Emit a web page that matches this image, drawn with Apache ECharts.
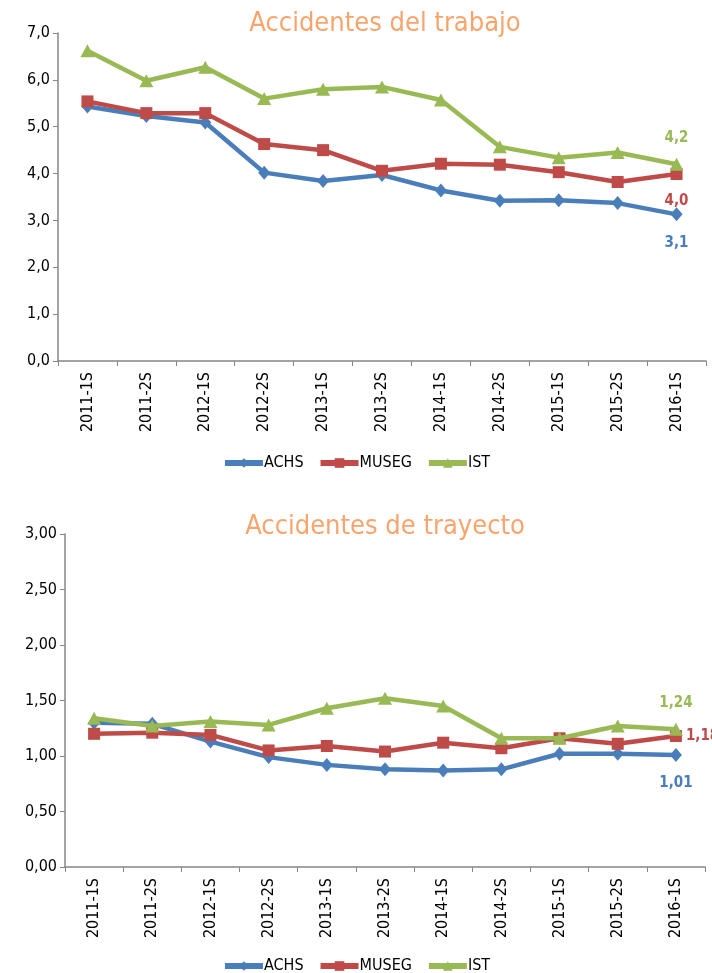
<!DOCTYPE html>
<html><head><meta charset="utf-8">
<script src="https://cdn.jsdelivr.net/npm/echarts@6/dist/echarts.min.js"></script>
<style>html,body{margin:0;padding:0;background:#fff}#c{width:712px;height:973px}</style>
</head><body><div id="c"></div>
<script>
const categories = ['2011-1S','2011-2S','2012-1S','2012-2S','2013-1S','2013-2S','2014-1S','2014-2S','2015-1S','2015-2S','2016-1S'];
const seriesNames = ['ACHS','MUSEG','IST'];
const trabajoACHS  = [5.43,5.23,5.09,4.02,3.84,3.97,3.64,3.42,3.43,3.37,3.13];
const trabajoMUSEG = [5.54,5.29,5.29,4.63,4.50,4.06,4.21,4.19,4.03,3.82,3.99];
const trabajoIST   = [6.62,5.98,6.27,5.60,5.80,5.85,5.57,4.57,4.34,4.45,4.20];
const trayectoACHS  = [1.30,1.29,1.13,0.99,0.92,0.88,0.87,0.88,1.02,1.02,1.01];
const trayectoMUSEG = [1.20,1.21,1.19,1.05,1.09,1.04,1.12,1.07,1.16,1.11,1.18];
const trayectoIST   = [1.34,1.27,1.31,1.28,1.43,1.52,1.45,1.16,1.16,1.27,1.24];
const titles = ['Accidentes del trabajo','Accidentes de trayecto'];

const colors = ['#4A7EBB','#BE4B48','#98B954'];
const symbols = ['diamond','rect','triangle'];
const symSizes = [[12,14],12,[14,13]];
const FONT = '"Liberation Sans Narrow","DejaVu Sans Condensed",sans-serif';

function fmt(dec){ return v => Number(v).toFixed(dec).replace('.',','); }

function lastLabeled(arr, pos, dist, color, dec){
  return arr.map((v,i)=> i===arr.length-1 ? {value:v,label:{show:true,position:pos,distance:dist,color:color,fontWeight:'bold',fontSize:15,fontFamily:FONT,formatter:p=>fmt(dec)(p.value)}} : v);
}

const axisLine = {show:true,lineStyle:{color:'#868686',width:1.5}};
function xAxis(gi){
  return {type:'category',gridIndex:gi,data:categories,boundaryGap:true,
    axisLine:axisLine,axisTick:{show:true,alignWithLabel:false,length:5,lineStyle:{color:'#868686'}},
    axisLabel:{rotate:90,margin:11,color:'#000',fontSize:16,fontFamily:FONT},splitLine:{show:false}};
}
function yAxis(gi,max,interval,dec){
  return {type:'value',gridIndex:gi,min:0,max:max,interval:interval,
    axisLine:axisLine,axisTick:{show:true,length:5,lineStyle:{color:'#868686'}},
    axisLabel:{formatter:fmt(dec),color:'#000',fontSize:16,fontFamily:FONT,margin:8},splitLine:{show:false}};
}
function mkSeries(name,idx,gi,data){
  return {name:name,type:'line',xAxisIndex:gi,yAxisIndex:gi,data:data,
    symbol:symbols[idx],symbolSize:symSizes[idx],showAllSymbol:true,
    lineStyle:{width:4.5,color:colors[idx]},itemStyle:{color:colors[idx]},
    emphasis:{disabled:true},animation:false,z:idx===2?4:(idx===1?3:2)};
}
function legend(top){
  return {data:seriesNames,left:'center',top:top,itemWidth:38,itemHeight:12,itemGap:14,
    lineStyle:{width:6},
    textStyle:{fontSize:16,fontFamily:FONT,color:'#000',padding:[0,0,0,-4]}};
}

const option = {
  animation:false,
  title:[
    {text:titles[0],left:380,top:5,textAlign:'center',textStyle:{color:'#F9A46C',fontSize:27,fontWeight:'normal',fontFamily:FONT}},
    {text:titles[1],left:380,top:508,textAlign:'center',textStyle:{color:'#F9A46C',fontSize:27,fontWeight:'normal',fontFamily:FONT}}
  ],
  legend:[legend(450),legend(953)],
  grid:[
    {left:58,right:6,top:33,height:328},
    {left:65,right:7,top:534,height:333}
  ],
  xAxis:[xAxis(0),xAxis(1)],
  yAxis:[yAxis(0,7,1,1),yAxis(1,3,0.5,2)],
  series:[
    mkSeries('ACHS',0,0,lastLabeled(trabajoACHS,'bottom',14,colors[0],1)),
    mkSeries('MUSEG',1,0,lastLabeled(trabajoMUSEG,'bottom',14,colors[1],1)),
    mkSeries('IST',2,0,lastLabeled(trabajoIST,'top',12,colors[2],1)),
    mkSeries('ACHS',0,1,lastLabeled(trayectoACHS,'bottom',14,colors[0],2)),
    mkSeries('MUSEG',1,1,lastLabeled(trayectoMUSEG,'right',4,colors[1],2)),
    mkSeries('IST',2,1,lastLabeled(trayectoIST,'top',12,colors[2],2))
  ]
};
const chart = echarts.init(document.getElementById('c'),null,{renderer:'canvas'});
chart.setOption(option);
</script></body></html>
